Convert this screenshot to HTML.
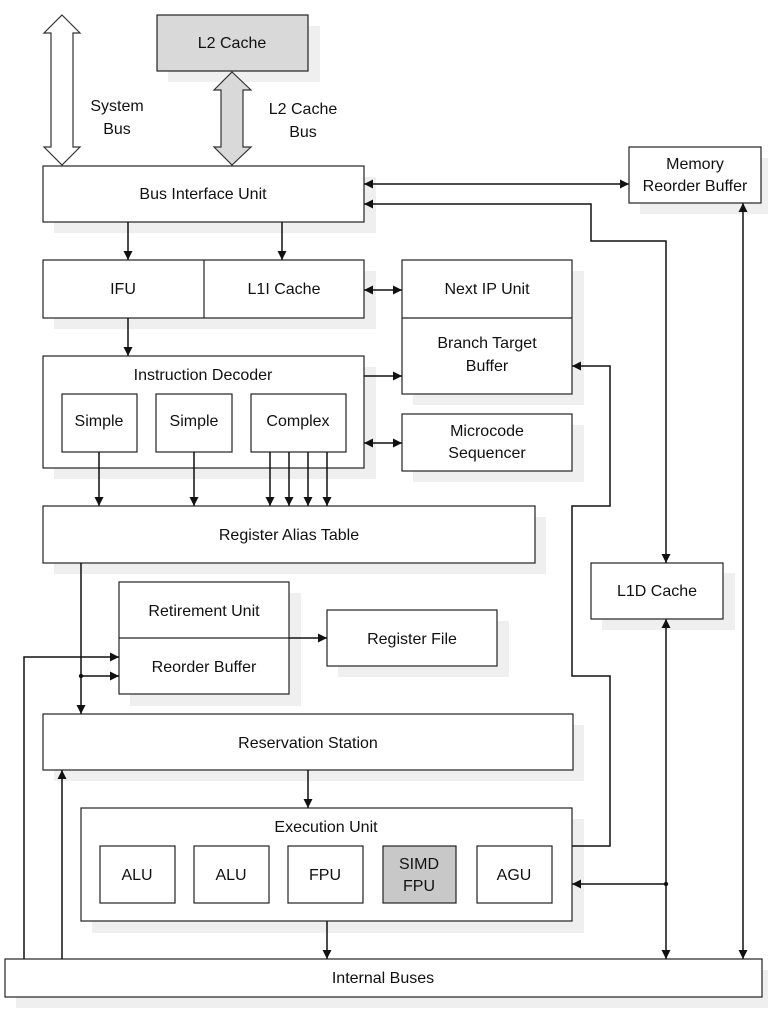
<!DOCTYPE html>
<html><head><meta charset="utf-8"><style>
html,body{margin:0;padding:0;background:#fff;}
svg{display:block;}
text{font-family:"Liberation Sans",Arial,sans-serif;font-size:16px;fill:#111;text-anchor:middle;}
.b{fill:#fff;stroke:#222;stroke-width:1.2;}
.s{fill:#efefef;stroke:none;}
.l{fill:none;stroke:#111;stroke-width:1.5;}
</style></head><body>
<svg width="768" height="1024" viewBox="0 0 768 1024" xmlns="http://www.w3.org/2000/svg">
<defs>
<marker id="a" viewBox="0 0 10 10" refX="10" refY="5" markerWidth="9" markerHeight="9" markerUnits="userSpaceOnUse" orient="auto-start-reverse">
<path d="M0,0 L10,5 L0,10 z" fill="#111"/></marker>
</defs>
<g class="s">
<rect x="168" y="26" width="152" height="56"/>
<rect x="54" y="177" width="322" height="56"/>
<rect x="640" y="158" width="128" height="56"/>
<rect x="54" y="271" width="322" height="58"/>
<rect x="413" y="271" width="171" height="134"/>
<rect x="54" y="367" width="322" height="112"/>
<rect x="413" y="425" width="171" height="57"/>
<rect x="54" y="517" width="492" height="57"/>
<rect x="130" y="593" width="171" height="113"/>
<rect x="338" y="621" width="171" height="56"/>
<rect x="602" y="573" width="133" height="57"/>
<rect x="54" y="725" width="530" height="56"/>
<rect x="92" y="819" width="492" height="114"/>
<rect x="16" y="970" width="752" height="38"/>
</g>
<path d="M62,15 L80,33 L73,33 L73,147 L80,147 L62,165 L44,147 L51,147 L51,33 L44,33 Z" fill="#fff" stroke="#333" stroke-width="1.2"/>
<path d="M232,72 L251,90 L243,90 L243,147 L251,147 L232,165 L214,147 L221,147 L221,90 L214,90 Z" fill="#d9d9d9" stroke="#333" stroke-width="1.2"/>
<text x="117" y="111">System</text><text x="117" y="134">Bus</text>
<text x="303" y="114">L2 Cache</text><text x="303" y="137">Bus</text>
<rect x="157" y="15" width="151" height="56" fill="#d9d9d9" stroke="#222" stroke-width="1.2"/>
<text x="232" y="48">L2 Cache</text>
<rect class="b" x="43" y="166" width="321" height="56"/><text x="203" y="199">Bus Interface Unit</text>
<rect class="b" x="629" y="147" width="132" height="56"/><text x="695" y="169">Memory</text><text x="695" y="191">Reorder Buffer</text>
<rect class="b" x="43" y="260" width="321" height="58"/><line x1="204" y1="260" x2="204" y2="318" stroke="#222" stroke-width="1.2"/>
<text x="123" y="294">IFU</text><text x="284" y="294">L1I Cache</text>
<rect class="b" x="402" y="260" width="170" height="134"/><line x1="402" y1="318" x2="572" y2="318" stroke="#222" stroke-width="1.2"/>
<text x="487" y="294">Next IP Unit</text><text x="487" y="348">Branch Target</text><text x="487" y="371">Buffer</text>
<rect class="b" x="43" y="356" width="321" height="112"/><text x="203" y="380">Instruction Decoder</text>
<rect class="b" x="62" y="394" width="75" height="58"/><text x="99" y="426">Simple</text>
<rect class="b" x="156" y="394" width="76" height="58"/><text x="194" y="426">Simple</text>
<rect class="b" x="251" y="394" width="95" height="58"/><text x="298" y="426">Complex</text>
<rect class="b" x="402" y="414" width="170" height="57"/><text x="487" y="436">Microcode</text><text x="487" y="458">Sequencer</text>
<rect class="b" x="43" y="506" width="492" height="57"/><text x="289" y="540">Register Alias Table</text>
<rect class="b" x="119" y="582" width="170" height="112"/><line x1="119" y1="638" x2="289" y2="638" stroke="#222" stroke-width="1.2"/>
<text x="204" y="616">Retirement Unit</text><text x="204" y="672">Reorder Buffer</text>
<rect class="b" x="327" y="610" width="170" height="56"/><text x="412" y="644">Register File</text>
<rect class="b" x="591" y="563" width="132" height="56"/><text x="657" y="596">L1D Cache</text>
<rect class="b" x="43" y="714" width="530" height="56"/><text x="308" y="748">Reservation Station</text>
<rect class="b" x="81" y="808" width="491" height="113"/><text x="326" y="832">Execution Unit</text>
<rect class="b" x="100" y="846" width="75" height="57"/><text x="137" y="880">ALU</text>
<rect class="b" x="194" y="846" width="75" height="57"/><text x="231" y="880">ALU</text>
<rect class="b" x="288" y="846" width="75" height="57"/><text x="325" y="880">FPU</text>
<rect x="383" y="846" width="73" height="57" fill="#c8c8c8" stroke="#222" stroke-width="1.2"/><text x="419" y="869">SIMD</text><text x="419" y="891">FPU</text>
<rect class="b" x="477" y="846" width="75" height="57"/><text x="514" y="880">AGU</text>
<rect class="b" x="5" y="959" width="757" height="38"/><text x="383" y="983">Internal Buses</text>
<g class="l">
<line x1="128" y1="222" x2="128" y2="260" marker-end="url(#a)"/>
<line x1="282" y1="222" x2="282" y2="260" marker-end="url(#a)"/>
<line x1="364" y1="184" x2="629" y2="184" marker-start="url(#a)" marker-end="url(#a)"/>
<polyline points="666,563 666,241 591,241 591,204 364,204" marker-start="url(#a)" marker-end="url(#a)"/>
<line x1="743" y1="203" x2="743" y2="959" marker-start="url(#a)" marker-end="url(#a)"/>
<line x1="364" y1="290" x2="402" y2="290" marker-start="url(#a)" marker-end="url(#a)"/>
<line x1="128" y1="318" x2="128" y2="356" marker-end="url(#a)"/>
<line x1="364" y1="376" x2="402" y2="376" marker-end="url(#a)"/>
<line x1="364" y1="443" x2="402" y2="443" marker-start="url(#a)" marker-end="url(#a)"/>
<line x1="99" y1="452" x2="99" y2="506" marker-end="url(#a)"/>
<line x1="194" y1="452" x2="194" y2="506" marker-end="url(#a)"/>
<line x1="270" y1="452" x2="270" y2="506" marker-end="url(#a)"/>
<line x1="289" y1="452" x2="289" y2="506" marker-end="url(#a)"/>
<line x1="308" y1="452" x2="308" y2="506" marker-end="url(#a)"/>
<line x1="327" y1="452" x2="327" y2="506" marker-end="url(#a)"/>
<line x1="81" y1="563" x2="81" y2="714" marker-end="url(#a)"/>
<line x1="81" y1="676" x2="119" y2="676" marker-end="url(#a)"/>
<polyline points="24,959 24,657 119,657" marker-end="url(#a)"/>
<line x1="62" y1="959" x2="62" y2="770" marker-end="url(#a)"/>
<line x1="289" y1="638" x2="327" y2="638" marker-end="url(#a)"/>
<line x1="308" y1="770" x2="308" y2="808" marker-end="url(#a)"/>
<line x1="327" y1="921" x2="327" y2="959" marker-end="url(#a)"/>
<polyline points="572,846 610,846 610,676 572,676 572,506 610,506 610,366 572,366" marker-end="url(#a)"/>
<line x1="666" y1="619" x2="666" y2="959" marker-start="url(#a)" marker-end="url(#a)"/>
<line x1="666" y1="884" x2="572" y2="884" marker-end="url(#a)"/>
</g>
<circle cx="81" cy="676" r="2.2" fill="#111"/>
<circle cx="666" cy="884" r="2.2" fill="#111"/>
</svg>
</body></html>
